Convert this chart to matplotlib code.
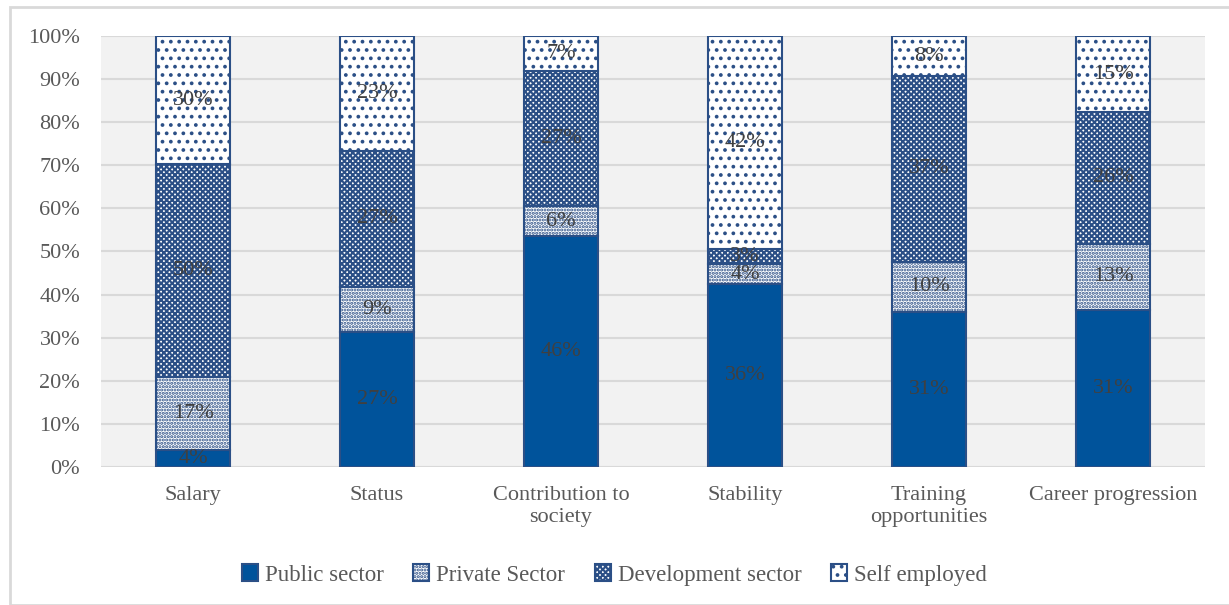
import matplotlib
matplotlib.use("Agg")
import matplotlib.pyplot as plt
import numpy as np
from matplotlib.patches import Rectangle

categories = ["Salary", "Status", "Contribution to\nsociety", "Stability",
              "Training\nopportunities", "Career progression"]
series_names = ["Public sector", "Private Sector", "Development sector", "Self employed"]
public = [4, 27, 46, 36, 31, 31]
private = [17, 9, 6, 4, 10, 13]
development = [50, 27, 27, 3, 37, 26]
self_employed = [30, 23, 7, 42, 8, 15]
yticks = [0, 10, 20, 30, 40, 50, 60, 70, 80, 90, 100]

plt.rcParams['font.family'] = ['Liberation Serif', 'DejaVu Serif']
plt.rcParams['hatch.linewidth'] = 1.5

BLUE = '#00539B'
EDGE = '#2B4F86'
TXT = '#595959'
FS = 16

fig = plt.figure(figsize=(12.29, 6.05), dpi=100)
ax = fig.add_axes([101/1229, 1-467/605, (1205-101)/1229, (467-36)/605])
ax.set_facecolor('#F2F2F2')

data = np.array([public, private, development, self_employed], dtype=float)
totals = data.sum(axis=0)
norm = data / totals * 100
x = np.arange(len(categories))
width = 0.40

styles = [
    dict(color=BLUE, edgecolor=EDGE, hatch=None),
    dict(color='white', edgecolor=EDGE, hatch='.....'),
    dict(color='white', edgecolor=EDGE, hatch='xxxxxx'),
    dict(color='white', edgecolor=EDGE, hatch='..'),
]

bottom = np.zeros(len(categories))
for i, (name, st) in enumerate(zip(series_names, styles)):
    bars = ax.bar(x, norm[i], width, bottom=bottom, color=st['color'],
                  edgecolor=st['edgecolor'], hatch=st['hatch'], linewidth=1.5,
                  label=name, zorder=3)
    for xi, b, h, v in zip(x, bottom, norm[i], data[i]):
        ax.text(xi, b + h/2, f"{int(v)}%", ha='center', va='center',
                fontsize=FS, color='#404040', zorder=5)
    bottom += norm[i]

ax.set_xlim(-0.5, len(categories) - 0.5)
ax.set_ylim(0, 100)
ax.set_yticks(yticks)
ax.set_yticklabels([f"{t}%" for t in yticks], fontsize=FS, color=TXT)
ax.set_xticks(x)
ax.set_xticklabels(categories, fontsize=FS, color=TXT, linespacing=1.15)
ax.tick_params(axis='x', length=0, pad=14)
ax.tick_params(axis='y', length=0, pad=15)
ax.yaxis.grid(True, color='#D9D9D9', linewidth=1.5, zorder=0)
ax.set_axisbelow(True)
for s in ax.spines.values():
    s.set_visible(False)

leg = fig.legend(loc='center', bbox_to_anchor=(0.5, 1-575/605), ncol=4, frameon=False,
                 fontsize=FS + 0.5, handlelength=0.7, handleheight=0.7, handletextpad=0.3,
                 columnspacing=1.3)
for t in leg.get_texts():
    t.set_color(TXT)

fig.patches.append(Rectangle((10/1229, 0), 1.0, 1-7/605, transform=fig.transFigure,
                             fill=False, edgecolor='#D9D9D9', linewidth=2))

fig.savefig('out.png', dpi=100)
